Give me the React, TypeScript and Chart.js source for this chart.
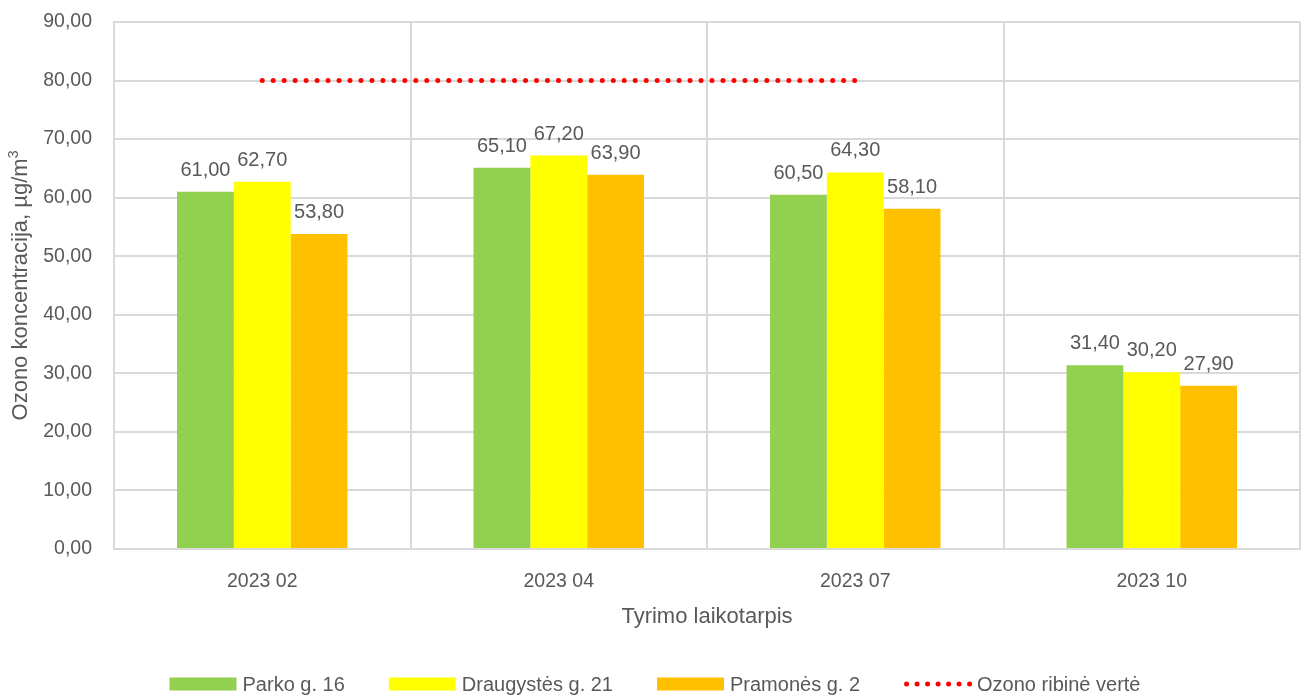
import React, { useEffect, useRef } from "react";
import { Chart, registerables } from "chart.js";

Chart.register(...registerables);

const categories = ["2023 02", "2023 04", "2023 07", "2023 10"];
const parko = [61.0, 65.1, 60.5, 31.4];
const draugystes = [62.7, 67.2, 64.3, 30.2];
const pramones = [53.8, 63.9, 58.1, 27.9];
const ribine = [80, 80, 80, null];

const seriesNames = ["Parko g. 16", "Draugystės g. 21", "Pramonės g. 2", "Ozono ribinė vertė"];
const seriesColors = ["#92D050", "#FFFF00", "#FFC000", "#FF0000"];

const yTitle = "Ozono koncentracija, µg/m";
const yTitleSup = "3";
const xTitle = "Tyrimo laikotarpis";

const FONT = "'Liberation Sans', Arial, sans-serif";
const TEXT = "#595959";
const GRID = "#D9D9D9";

const fmt = (v: number) => v.toFixed(2).replace(".", ",");

const customPlugin = {
  id: "custom",
  afterDatasetsDraw(chart: any) {
    const ctx = chart.ctx;
    ctx.save();
    ctx.font = `20px ${FONT}`;
    ctx.fillStyle = TEXT;
    ctx.textAlign = "center";
    ctx.textBaseline = "alphabetic";
    for (let d = 0; d < 3; d++) {
      const meta = chart.getDatasetMeta(d);
      const data = chart.data.datasets[d].data;
      meta.data.forEach((el: any, i: number) => {
        ctx.fillText(fmt(data[i]), el.x, el.y - 16);
      });
    }
    ctx.restore();
  },
  afterDraw(chart: any) {
    const ctx = chart.ctx;
    const area = chart.chartArea;
    ctx.save();
    ctx.fillStyle = TEXT;
    // X title
    ctx.font = `22px ${FONT}`;
    ctx.textAlign = "center";
    ctx.textBaseline = "middle";
    ctx.fillText(xTitle, (area.left + area.right) / 2, 617);
    // Y title with superscript
    ctx.save();
    ctx.translate(19, (area.top + area.bottom) / 2);
    ctx.rotate(-Math.PI / 2);
    ctx.font = `22px ${FONT}`;
    const mainW = ctx.measureText(yTitle).width;
    ctx.font = `14px ${FONT}`;
    const supW = ctx.measureText(yTitleSup).width;
    const start = -(mainW + supW) / 2;
    ctx.textAlign = "left";
    ctx.textBaseline = "alphabetic";
    ctx.font = `22px ${FONT}`;
    ctx.fillText(yTitle, start, 8);
    ctx.font = `14px ${FONT}`;
    ctx.fillText(yTitleSup, start + mainW, -1);
    ctx.restore();

    // Legend
    ctx.font = `20px ${FONT}`;
    const boxW = 67;
    const boxH = 13;
    const gapText = 6;
    const gapItem = 44;
    const widths = seriesNames.map((n) => ctx.measureText(n).width);
    let total = 0;
    widths.forEach((w, i) => {
      total += boxW + gapText + w + (i < widths.length - 1 ? gapItem : 0);
    });
    let x = chart.width / 2 - total / 2 + 3;
    const cy = 684;
    ctx.textAlign = "left";
    ctx.textBaseline = "middle";
    seriesNames.forEach((n, i) => {
      if (i < 3) {
        ctx.fillStyle = seriesColors[i];
        ctx.fillRect(x, cy - boxH / 2, boxW, boxH);
      } else {
        ctx.fillStyle = seriesColors[i];
        for (let k = 0; k < 7; k++) {
          ctx.beginPath();
          ctx.arc(x + 2.5 + k * 10.5, cy, 2.5, 0, Math.PI * 2);
          ctx.fill();
        }
      }
      ctx.fillStyle = TEXT;
      ctx.fillText(n, x + boxW + gapText, cy + 1);
      x += boxW + gapText + widths[i] + gapItem;
    });
    ctx.restore();
  },
};

export default function App() {
  const ref = useRef<HTMLCanvasElement | null>(null);
  useEffect(() => {
    if (!ref.current) return;
    const chart = new Chart(ref.current, {
      type: "bar",
      data: {
        labels: categories,
        datasets: [
          {
            label: seriesNames[0],
            data: parko,
            backgroundColor: seriesColors[0],
            barPercentage: 1,
            categoryPercentage: 0.575,
            order: 1,
          },
          {
            label: seriesNames[1],
            data: draugystes,
            backgroundColor: seriesColors[1],
            barPercentage: 1,
            categoryPercentage: 0.575,
            order: 1,
          },
          {
            label: seriesNames[2],
            data: pramones,
            backgroundColor: seriesColors[2],
            barPercentage: 1,
            categoryPercentage: 0.575,
            order: 1,
          },
          {
            type: "line",
            label: seriesNames[3],
            data: ribine as any,
            borderColor: seriesColors[3],
            backgroundColor: seriesColors[3],
            borderWidth: 5,
            borderDash: [0, 10.97],
            borderCapStyle: "round",
            pointRadius: 0,
            fill: false,
            order: 0,
          } as any,
        ],
      },
      options: {
        responsive: false,
        animation: false,
        layout: { padding: { top: 22, right: 4, bottom: 0, left: 0 } },
        plugins: {
          legend: { display: false },
          tooltip: { enabled: false },
          title: { display: false },
        },
        scales: {
          x: {
            grid: { color: GRID, lineWidth: 2, drawTicks: false, offset: true },
            border: { color: GRID, width: 2 },
            ticks: { color: TEXT, font: { family: FONT, size: 19.5 }, padding: 21 },
            afterFit: (s: any) => {
              s.height = 149;
            },
          },
          y: {
            min: 0,
            max: 90,
            grid: { color: GRID, lineWidth: 2, drawTicks: false },
            border: { color: GRID, width: 2 },
            ticks: {
              stepSize: 10,
              color: TEXT,
              font: { family: FONT, size: 19.5 },
              padding: 22,
              callback: (v: any) => fmt(Number(v)),
            },
            afterFit: (s: any) => {
              s.width = 114;
              s.paddingTop = 0;
              s.paddingBottom = 0;
            },
          },
        },
      },
      plugins: [customPlugin],
    });
    return () => chart.destroy();
  }, []);
  return (
    <div style={{ position: "absolute", left: 0, top: 0, width: 1304, height: 698, background: "#fff" }}>
      <canvas ref={ref} width={1304} height={698} />
    </div>
  );
}
